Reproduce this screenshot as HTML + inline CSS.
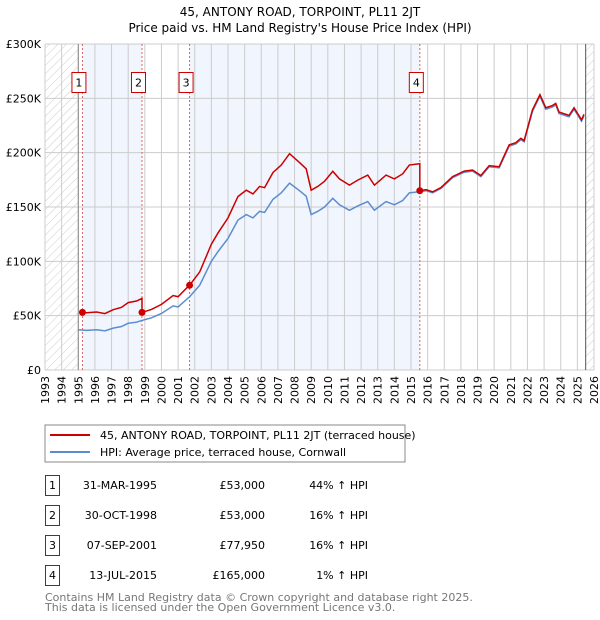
<!DOCTYPE html>
<html><head><meta charset="utf-8"><style>
body{margin:0;background:#fff;}
svg{display:block;font-family:"DejaVu Sans","Liberation Sans",sans-serif;}
</style></head><body>
<svg id="c" width="600" height="620" viewBox="0 0 600 620">
<defs><pattern id="hatch" width="6" height="6" patternUnits="userSpaceOnUse" patternTransform="rotate(45)"><line x1="0" y1="0" x2="0" y2="6" stroke="#ccc" stroke-width="1"/></pattern></defs>
<text x="300" y="16" text-anchor="middle" font-size="12">45, ANTONY ROAD, TORPOINT, PL11 2JT</text>
<text x="300" y="32" text-anchor="middle" font-size="12">Price paid vs. HM Land Registry's House Price Index (HPI)</text>
<g id="plot"></g>
<rect x="45" y="425" width="360" height="37" fill="none" stroke="#888"/>
<line x1="50" y1="435" x2="90" y2="435" stroke="#cc0000" stroke-width="2"/>
<text x="100" y="439" font-size="11">45, ANTONY ROAD, TORPOINT, PL11 2JT (terraced house)</text>
<line x1="50" y1="452" x2="90" y2="452" stroke="#5b8ccf" stroke-width="2"/>
<text x="100" y="456" font-size="11">HPI: Average price, terraced house, Cornwall</text>
<g id="table" font-size="11"></g>
<text x="45" y="601" font-size="11" fill="#777">Contains HM Land Registry data © Crown copyright and database right 2025.</text>
<text x="45" y="611" font-size="11" fill="#777">This data is licensed under the Open Government Licence v3.0.</text>
</svg>
<script>
const hpiYears=[1995.0,1995.5,1996.1,1996.6,1997.1,1997.6,1998.0,1998.5,1998.8,1999.4,2000.0,2000.7,2001.0,2001.7,2002.3,2003.0,2003.4,2004.0,2004.6,2005.1,2005.5,2005.9,2006.2,2006.7,2007.2,2007.7,2008.3,2008.7,2009.0,2009.4,2009.8,2010.3,2010.7,2011.3,2011.8,2012.4,2012.8,2013.5,2014.0,2014.5,2014.9,2015.5,2015.9,2016.3,2016.8,2017.5,2018.2,2018.7,2019.2,2019.7,2020.3,2020.9,2021.3,2021.6,2021.8,2022.3,2022.75,2023.1,2023.5,2023.7,2023.9,2024.5,2024.8,2025.25,2025.4];
const hpiValues=[37,36.5,37,36,38.5,40,43,44,45.5,48,52,59,58,67.5,78,100,109,121,138,143,140,146,145,157,163,172,165,160,143,146,150,158,152,147,151,155,147,155,152,156,163,164,165,163,167,177,182,183,178,187,186,206,208,212,210,238,252,240,242,244,236,233,240,229,234];
const saleYears=[1995.25,1998.83,2001.69,2015.53];
const salePrices=[53,53,77.95,165];
const saleLabels=["1","2","3","4"];
const saleDates=["31-MAR-1995","30-OCT-1998","07-SEP-2001","13-JUL-2015"];
const salePriceText=["£53,000","£53,000","£77,950","£165,000"];
const saleHpiText=["44% ↑ HPI","16% ↑ HPI","16% ↑ HPI","1% ↑ HPI"];
const yTicks=[0,50,100,150,200,250,300];
const yTickLabels=["£0","£50K","£100K","£150K","£200K","£250K","£300K"];
const xStart=1993,xEnd=2026;

const NS="http://www.w3.org/2000/svg";
const X0=45,X1=594,Y0=370,Y1=44;
const xs=y=>X0+(y-xStart)/(xEnd-xStart)*(X1-X0);
const ys=v=>Y0-v/300*(Y0-Y1);
function mk(tag,attrs,parent){const e=document.createElementNS(NS,tag);for(const k in attrs)e.setAttribute(k,attrs[k]);parent.appendChild(e);return e;}
const g=document.getElementById('plot');
function hpiAt(t){if(t<=hpiYears[0])return hpiValues[0];for(let i=1;i<hpiYears.length;i++){if(t<=hpiYears[i]){const f=(t-hpiYears[i-1])/(hpiYears[i]-hpiYears[i-1]);return hpiValues[i-1]+f*(hpiValues[i]-hpiValues[i-1]);}}return hpiValues[hpiValues.length-1];}
const lastY=hpiYears[hpiYears.length-1];
let r=mk('rect',{x:X0,y:Y1,width:xs(1995)-X0,height:Y0-Y1,fill:'url(#hatch)'},g);

r=mk('rect',{x:xs(lastY+0.1),y:Y1,width:X1-xs(lastY+0.1),height:Y0-Y1,fill:'url(#hatch)'},g);

[[0,1],[2,3]].forEach(([a,b])=>{const e=mk('rect',{x:xs(saleYears[a]),y:Y1,width:xs(saleYears[b])-xs(saleYears[a]),height:Y0-Y1,fill:'#eef3fc',opacity:0.8},g);
});
for(let y=xStart;y<=xEnd;y++){const l=mk('line',{x1:xs(y),x2:xs(y),y1:Y1,y2:Y0,stroke:'#ccc','stroke-width':1},g);

const t=mk('text',{x:0,y:0,'font-size':11,'text-anchor':'end',transform:`translate(${xs(y)+4},${Y0+6}) rotate(-90)`},g);t.textContent=y;
}
yTicks.forEach((v,i)=>{const l=mk('line',{x1:X0,x2:X1,y1:ys(v),y2:ys(v),stroke:'#ccc','stroke-width':1},g);

const t=mk('text',{x:X0-4,y:ys(v)+4,'font-size':11,'text-anchor':'end'},g);t.textContent=yTickLabels[i];
});
let bl=mk('line',{x1:xs(1995),x2:xs(1995),y1:Y1,y2:Y0,stroke:'#888'},g);
bl=mk('line',{x1:xs(lastY+0.1),x2:xs(lastY+0.1),y1:Y1,y2:Y0,stroke:'#555'},g);
saleYears.forEach((t,i)=>{const l=mk('line',{x1:xs(t),x2:xs(t),y1:Y1,y2:Y0,stroke:'#e06060','stroke-dasharray':'2,2','stroke-width':1},g);

const bx=mk('rect',{x:xs(t)-10.5,y:72.5,width:14,height:20,fill:'#fff',stroke:'#cc0000'},g);

const tx=mk('text',{x:xs(t)-3.5,y:86.5,'font-size':11,'text-anchor':'middle'},g);tx.textContent=saleLabels[i];
});
const hp=mk('polyline',{points:hpiYears.map((t,i)=>xs(t)+','+ys(hpiValues[i])).join(' '),fill:'none',stroke:'#5b8ccf','stroke-width':1.5},g);

const pts=[];
for(let k=0;k<saleYears.length;k++){const t0=saleYears[k],t1=k+1<saleYears.length?saleYears[k+1]:lastY;const f=salePrices[k]/hpiAt(t0);
const ts=[t0].concat(hpiYears.filter(t=>t>t0&&t<t1)).concat([t1]);ts.forEach(t=>pts.push(xs(t)+','+ys(hpiAt(t)*f)));}
const pl=mk('polyline',{points:pts.join(' '),fill:'none',stroke:'#cc0000','stroke-width':1.5},g);

saleYears.forEach((t,i)=>{const c=mk('circle',{cx:xs(t),cy:ys(salePrices[i]),r:3.5,fill:'#cc0000'},g);
});
const tb=document.getElementById('table');
saleYears.forEach((t,i)=>{const y0=475+i*30;
const b=mk('rect',{x:45.5,y:y0+0.5,width:14,height:20,fill:'none',stroke:'#cc0000'},tb);
let e=mk('text',{x:52.5,y:y0+14,'text-anchor':'middle'},tb);e.textContent=saleLabels[i];
e=mk('text',{x:157,y:y0+14,'text-anchor':'end'},tb);e.textContent=saleDates[i];
e=mk('text',{x:265,y:y0+14,'text-anchor':'end'},tb);e.textContent=salePriceText[i];
e=mk('text',{x:368,y:y0+14,'text-anchor':'end'},tb);e.textContent=saleHpiText[i];});
</script>
</body></html>
